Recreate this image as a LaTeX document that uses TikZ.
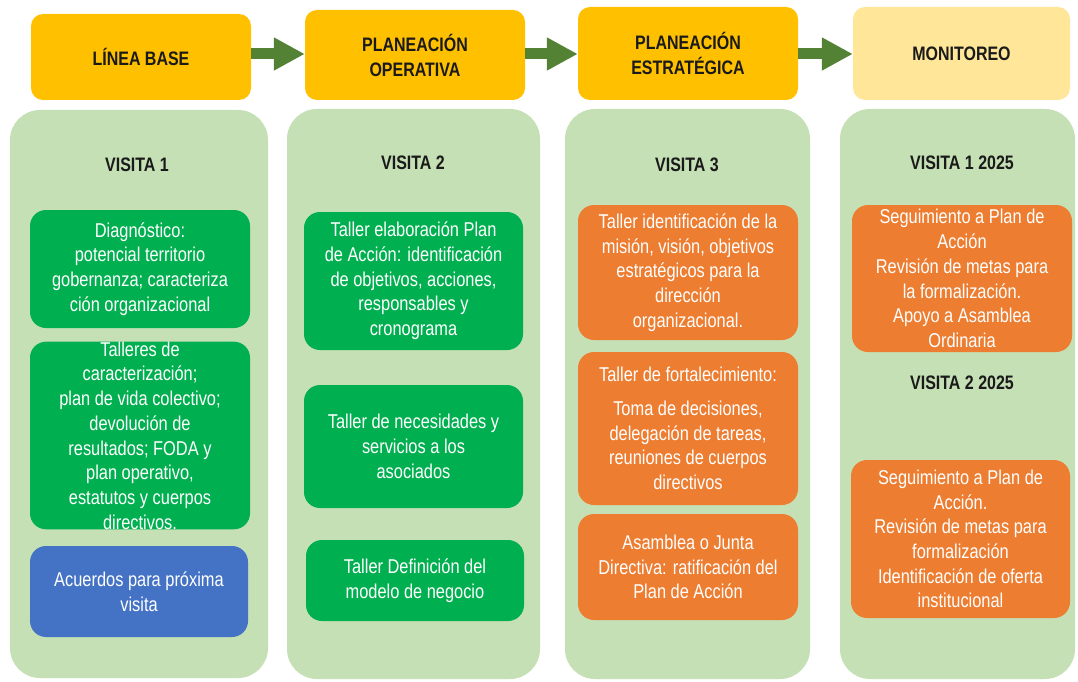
\documentclass[tikz,border=0pt]{standalone}
\usepackage{fontspec}
\setmainfont{Liberation Sans}[FakeStretch=0.82]
\usetikzlibrary{arrows.meta}
\definecolor{hdr}{HTML}{FFC000}
\definecolor{hdrlight}{HTML}{FFE699}
\definecolor{arr}{HTML}{548235}
\definecolor{panel}{HTML}{C5E0B4}
\definecolor{gbox}{HTML}{00B050}
\definecolor{obox}{HTML}{ED7D31}
\definecolor{bbox}{HTML}{4472C4}
\definecolor{htext}{HTML}{1A1A1A}
\begin{document}
\begin{tikzpicture}[x=1pt,y=-1pt,
  hdrbox/.style={fill=hdr, rounded corners=12pt, inner sep=0pt, align=center, text=htext,
    font=\bfseries\fontsize{19.5}{25}\selectfont},
  panelbox/.style={fill=panel, rounded corners=30pt, inner sep=0pt},
  visittitle/.style={text=htext, inner sep=0pt, font=\bfseries\fontsize{19.5}{24}\selectfont},
  itembox/.style={rounded corners=16pt, text=white, align=center, inner sep=0pt,
    font=\fontsize{20}{24.7}\selectfont},
  greenbox/.style={itembox, fill=gbox},
  orangebox/.style={itembox, fill=obox},
  bluebox/.style={itembox, fill=bbox},
  flowarrow/.style={draw=arr, line width=11pt, -{Triangle[length=31pt,width=31pt]}},
]
\useasboundingbox (0,0) rectangle (1078,682);
\fill[white] (0,0) rectangle (1078,682);

% headers
\node[hdrbox, minimum width=220pt, minimum height=86pt] (h1) at (141,57) {LÍNEA BASE};
\node[hdrbox, minimum width=220pt, minimum height=90pt] (h2) at (415,55) {PLANEACIÓN\\OPERATIVA};
\node[hdrbox, minimum width=220pt, minimum height=93pt] (h3) at (688,53.5) {PLANEACIÓN\\ESTRATÉGICA};
\node[hdrbox, fill=hdrlight, minimum width=217pt, minimum height=93pt] (h4) at (961.5,53.5) {MONITOREO};

\coordinate (ay) at (0,54);
\draw[flowarrow] (h1.east |- ay) -- (h2.west |- ay);
\draw[flowarrow] (h2.east |- ay) -- (h3.west |- ay);
\draw[flowarrow] (h3.east |- ay) -- (h4.west |- ay);

% panels
\node[panelbox, minimum width=258pt, minimum height=568pt] (p1) at (139,394) {};
\node[panelbox, minimum width=253pt, minimum height=570pt] (p2) at (413.5,394) {};
\node[panelbox, minimum width=245pt, minimum height=570pt] (p3) at (687.5,394) {};
\node[panelbox, minimum width=235pt, minimum height=570pt] (p4) at (957.5,394) {};

% titles
\node[visittitle] (v1) at (137,165) {VISITA 1};
\node[visittitle] (v2) at (413,163) {VISITA 2};
\node[visittitle] (v3) at (687,165) {VISITA 3};
\node[visittitle] (v4a) at (962,163) {VISITA 1 2025};
\node[visittitle] (v4b) at (962,383) {VISITA 2 2025};

% column 1
\node[greenbox, minimum width=220pt, minimum height=118pt] (c1a) at (140,269)
  {Diagnóstico:\\potencial territorio\\gobernanza; caracteriza\\ción organizacional};
\node[greenbox, minimum width=220pt, minimum height=185pt] (c1b) at (140,435.5)
  {Talleres de\\caracterización;\\plan de vida colectivo;\\devolución de\\resultados; FODA y\\plan operativo,\\estatutos y cuerpos\\directivos.};
\node[bluebox, minimum width=218pt, minimum height=91pt] (c1c) at (139,591.5)
  {Acuerdos para próxima\\visita};

% column 2
\node[greenbox, minimum width=219pt, minimum height=138pt] (c2a) at (413.5,281)
  {Taller elaboración Plan\\de Acción: identificación\\de objetivos, acciones,\\responsables y\\cronograma};
\node[greenbox, minimum width=219pt, minimum height=123pt] (c2b) at (413.5,446.5)
  {Taller de necesidades y\\servicios a los\\asociados};
\node[greenbox, minimum width=218pt, minimum height=81pt] (c2c) at (415,580.5)
  {Taller Definición del\\modelo de negocio};

% column 3
\node[orangebox, minimum width=220pt, minimum height=135pt] (c3a) at (688,272.5)
  {Taller identificación de la\\misión, visión, objetivos\\estratégicos para la\\dirección\\organizacional.};
\node[orangebox, minimum width=220pt, minimum height=153pt] (c3b) at (688,428.5)
  {Taller de fortalecimiento:\\[9pt]Toma de decisiones,\\delegación de tareas,\\reuniones de cuerpos\\directivos};
\node[orangebox, minimum width=220pt, minimum height=106pt] (c3c) at (688,567)
  {Asamblea o Junta\\Directiva: ratificación del\\Plan de Acción};

% column 4
\node[orangebox, minimum width=220pt, minimum height=147pt] (c4a) at (962,278.5)
  {Seguimiento a Plan de\\Acción\\Revisión de metas para\\la formalización.\\Apoyo a Asamblea\\Ordinaria};
\node[orangebox, minimum width=219pt, minimum height=158pt] (c4b) at (960.5,539)
  {Seguimiento a Plan de\\Acción.\\Revisión de metas para\\formalización\\Identificación de oferta\\institucional};
\end{tikzpicture}
\end{document}
